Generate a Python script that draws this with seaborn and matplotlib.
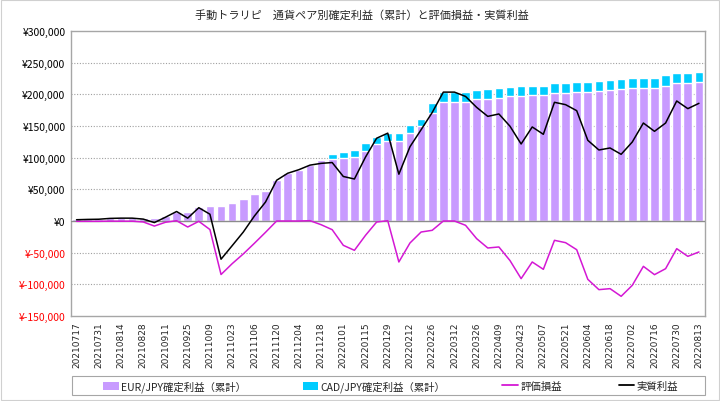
import numpy as np
import matplotlib
matplotlib.use('Agg')
import matplotlib.pyplot as plt
import seaborn as sns
from matplotlib.patches import Patch, Rectangle
from matplotlib.lines import Line2D
from matplotlib.ticker import FuncFormatter

# 週次データ (2021/07/17 - 2022/08/13)
dates = [
    '20210717', '20210724', '20210731', '20210807', '20210814', '20210821', '20210828',
    '20210904', '20210911', '20210918', '20210925', '20211002', '20211009', '20211016',
    '20211023', '20211030', '20211106', '20211113', '20211120', '20211127', '20211204',
    '20211211', '20211218', '20211225', '20220101', '20220108', '20220115', '20220122',
    '20220129', '20220205', '20220212', '20220219', '20220226', '20220305', '20220312',
    '20220319', '20220326', '20220402', '20220409', '20220416', '20220423', '20220430',
    '20220507', '20220514', '20220521', '20220528', '20220604', '20220611', '20220618',
    '20220625', '20220702', '20220709', '20220716', '20220723', '20220730', '20220806',
    '20220813',
]

eur_jpy = [
    2500, 3000, 3300, 4300, 4800, 4800, 4500, 5500, 8000, 14500,
    14000, 21500, 24200, 24200, 28400, 34500, 43000, 47800, 64300, 75400,
    81000, 87700, 96800, 98200, 99000, 101800, 110000, 121800, 125800, 126000,
    138300, 149500, 170000, 188500, 188500, 188500, 192000, 193000, 195000, 197200,
    197400, 198200, 198400, 202600, 202600, 203700, 203700, 204700, 206300, 207900,
    210500, 210500, 210500, 213700, 217400, 217400, 218900,
]

cad_jpy = [
    0, 0, 0, 0, 0, 0, 0, 0, 0, 0,
    0, 0, 0, 0, 0, 0, 0, 0, 0, 0,
    0, 0, 0, 7800, 9700, 10800, 13600, 10500, 12400, 12600,
    13700, 12000, 16000, 15000, 15000, 15000, 15300, 14800, 15000, 14900,
    15200, 15000, 14800, 15300, 15300, 15800, 15800, 15800, 15800, 16300,
    15800, 15800, 15800, 16300, 15800, 15800, 15800,
]

hyoka = [
    -500, -500, -500, -200, -300, -300, -1500, -8000, -2000, 500,
    -9500, -500, -13500, -84500, -67400, -52000, -35200, -17900, 0, 0,
    0, 500, -5800, -13700, -38400, -46300, -22600, -1600, 500, -64700,
    -34700, -17400, -14700, 0, 0, -6800, -27900, -42600, -41000, -62500,
    -91000, -64700, -76300, -30500, -34200, -45300, -92100, -108400, -106800, -118900,
    -101600, -71600, -84700, -75300, -43700, -55800, -48900,
]

jissitsu = [
    2000, 2500, 2800, 4100, 4500, 4500, 3000, -2500, 6000, 15000,
    4500, 21000, 10700, -60300, -39000, -17500, 7800, 29900, 64300, 75400,
    81000, 88200, 91000, 92300, 70300, 66300, 101000, 130700, 138700, 73900,
    117300, 144100, 171300, 203500, 203500, 196700, 179400, 165200, 169000, 149600,
    121600, 148500, 136900, 187400, 183700, 174200, 127400, 112100, 115300, 105300,
    124700, 154700, 141600, 154700, 189500, 177400, 185800,
]

c_eur = '#C89BFF'
c_cad = '#00CCFF'
c_hyoka = '#D418D4'
c_jis = '#000000'

sns.set_style('white')
plt.rcParams['font.family'] = ['Noto Sans CJK JP', 'DejaVu Sans']

fig = plt.figure(figsize=(7.2, 4.02), dpi=100)
ax = fig.add_axes([71 / 720, 1 - 317 / 402, 633.5 / 720, 285 / 402])

idx = np.arange(len(dates))
total = np.array(eur_jpy) + np.array(cad_jpy)

# グリッド (点線)
for v in range(-100000, 300000, 50000):
    if v != 0:
        ax.axhline(v, color='#A0A0A0', lw=0.8, ls=(0, (1, 1.5)), zorder=0)

# 積み上げ棒 (CADを上に)
sns.barplot(x=idx, y=total, color=c_cad, saturation=1, width=0.78, ax=ax, zorder=2)
sns.barplot(x=idx, y=eur_jpy, color=c_eur, saturation=1, width=0.78, ax=ax, zorder=3)

ax.axhline(0, color='#8C8C8C', lw=1.0, zorder=4)

sns.lineplot(x=idx, y=hyoka, color=c_hyoka, lw=1.1, ax=ax, zorder=5)
sns.lineplot(x=idx, y=jissitsu, color=c_jis, lw=1.1, ax=ax, zorder=6)

ax.set_xlim(-0.5, len(dates) - 0.5)
ax.set_ylim(-150000, 300000)
ax.set_yticks(range(-150000, 300001, 50000))
ax.yaxis.set_major_formatter(FuncFormatter(lambda v, p: f'¥{v:,.0f}'))
for lab, v in zip(ax.get_yticklabels(), ax.get_yticks()):
    lab.set_color('#FF0000' if v < 0 else '#000000')
    lab.set_fontsize(7.5)

ax.set_xticks(idx[::2])
ax.set_xticklabels(dates[::2], rotation=90, fontsize=6.5, family='DejaVu Sans')
ax.tick_params(axis='both', length=0, pad=4)
ax.set_xlabel('')
ax.set_ylabel('')

for s in ax.spines.values():
    s.set_color('#A6A6A6')
    s.set_linewidth(1.0)

fig.text(0.503, 1 - 15 / 402, '手動トラリピ　通貨ペア別確定利益（累計）と評価損益・実質利益',
         ha='center', va='center', fontsize=8)

handles = [
    Patch(facecolor=c_eur, edgecolor='none'),
    Patch(facecolor=c_cad, edgecolor='none'),
    Line2D([], [], color=c_hyoka, lw=1.3),
    Line2D([], [], color=c_jis, lw=1.3),
]
labels = ['EUR/JPY確定利益（累計）', 'CAD/JPY確定利益（累計）', '評価損益', '実質利益']
fig.legend(handles, labels, loc='center left', ncol=4, mode='expand', frameon=False,
           bbox_to_anchor=(103 / 720, 1 - 387 / 402, (678 - 103) / 720, 0.0),
           fontsize=7.5, handlelength=1.5, handleheight=0.8, handletextpad=0.2,
           borderpad=0, borderaxespad=0)

fig.patches.append(Rectangle((72 / 720, 1 - 396 / 402), (705 - 72) / 720, 19 / 402,
                             transform=fig.transFigure, fill=False,
                             edgecolor='#A6A6A6', lw=0.8))
fig.patches.append(Rectangle((1 / 720, 1 / 402), 718 / 720, 400 / 402,
                             transform=fig.transFigure, fill=False,
                             edgecolor='#D0D0D0', lw=0.8))

fig.savefig('out.png', dpi=100)
